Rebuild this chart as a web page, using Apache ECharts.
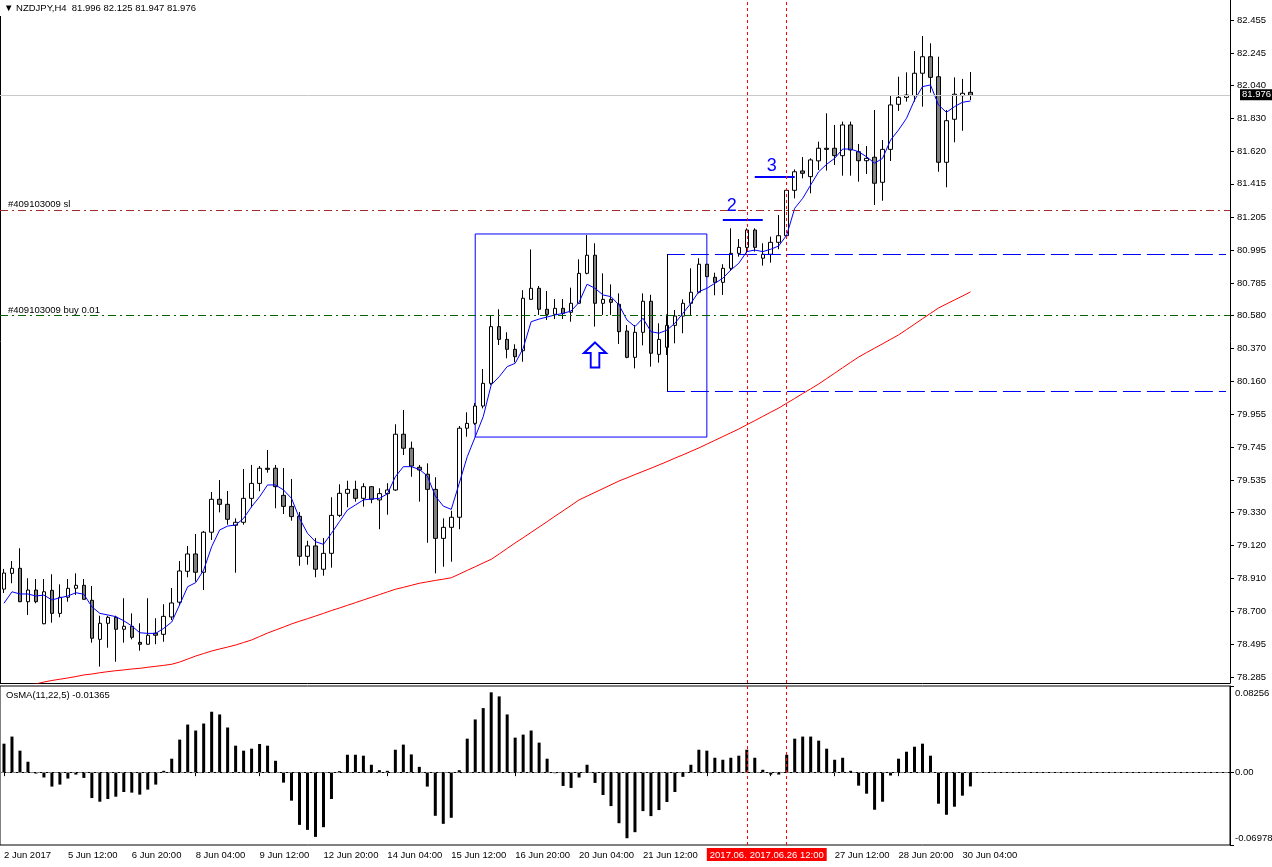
<!DOCTYPE html>
<html>
<head>
<meta charset="utf-8">
<title>NZDJPY,H4</title>
<script src="https://cdn.jsdelivr.net/npm/echarts@6.0.0/dist/echarts.min.js"></script>
<style>
  html, body { margin: 0; padding: 0; background: #fff; }
  #main { width: 1272px; height: 867px; }
</style>
</head>
<body>
<div id="main"></div>
<script>
// H4 bars from 2 Jun 04:00 to 30 Jun 08:00 (122 bars)
var opens = [78.843,78.943,78.975,78.763,78.837,78.623,78.835,78.689,78.791,78.848,
  78.867,78.772,78.524,78.626,78.664,78.588,78.607,78.505,78.493,78.563,
  78.556,78.666,78.760,78.956,79.066,78.950,79.204,79.413,79.381,79.248,
  79.267,79.419,79.514,79.610,79.610,79.438,79.368,79.305,79.051,79.117,
  78.969,79.070,79.311,79.451,79.476,79.419,79.493,79.409,79.449,79.472,
  79.826,79.737,79.616,79.572,79.476,79.165,79.235,79.299,79.864,79.895,
  80.005,80.149,80.509,80.428,80.365,80.356,80.682,80.752,80.619,80.587,
  80.625,80.600,80.657,80.847,80.962,80.657,80.682,80.651,80.481,80.314,
  80.473,80.670,80.333,80.378,80.517,80.576,80.657,80.727,80.905,80.822,
  80.790,80.879,80.974,81.012,81.122,80.943,80.968,81.044,81.086,81.374,
  81.497,81.461,81.561,81.641,81.641,81.594,81.789,81.619,81.562,81.584,
  81.425,81.634,81.920,81.964,81.975,82.117,82.222,82.095,81.552,81.825,
  81.975,81.996];
var highs = [78.971,79.021,79.102,78.912,78.907,78.907,78.937,78.873,78.907,78.943,
  78.907,78.863,78.674,78.674,78.674,78.785,78.689,78.626,78.785,78.658,
  78.747,78.850,79.021,79.117,79.193,79.212,79.459,79.535,79.466,79.292,
  79.605,79.631,79.624,79.726,79.631,79.612,79.542,79.332,79.150,79.167,
  79.167,79.426,79.508,79.531,79.531,79.515,79.497,79.483,79.515,79.889,
  79.980,79.779,79.631,79.641,79.553,79.292,79.340,79.878,79.965,80.024,
  80.240,80.578,80.619,80.473,80.397,80.740,80.999,80.767,80.735,80.684,
  80.684,80.756,80.936,81.090,81.038,80.847,80.777,80.720,80.519,80.519,
  80.720,80.711,80.530,80.587,80.614,80.682,80.879,80.943,80.905,80.851,
  80.905,81.133,81.065,81.133,81.133,81.038,81.080,81.217,81.387,81.507,
  81.585,81.577,81.683,81.863,81.789,81.810,81.810,81.668,81.655,81.884,
  81.693,81.975,82.095,82.123,82.258,82.353,82.307,82.222,81.884,82.091,
  82.081,82.125];
var lows = [78.818,78.880,78.760,78.679,78.753,78.620,78.630,78.664,78.763,78.806,
  78.776,78.503,78.351,78.471,78.382,78.503,78.524,78.452,78.490,78.493,
  78.509,78.647,78.740,78.918,78.890,78.837,79.155,79.330,79.252,78.947,
  79.252,79.362,79.464,79.582,79.356,79.320,79.277,78.991,78.998,78.918,
  78.928,78.979,79.300,79.362,79.398,79.366,79.388,79.223,79.315,79.466,
  79.694,79.556,79.398,79.137,78.943,78.985,79.017,79.223,79.810,79.885,
  79.990,80.139,80.392,80.308,80.282,80.286,80.682,80.583,80.551,80.557,
  80.557,80.540,80.657,80.841,80.509,80.583,80.583,80.399,80.308,80.244,
  80.390,80.255,80.280,80.329,80.403,80.467,80.583,80.720,80.826,80.708,
  80.710,80.862,80.953,80.974,80.985,80.896,80.915,81.000,81.086,81.323,
  81.450,81.355,81.503,81.499,81.535,81.467,81.467,81.429,81.478,81.281,
  81.308,81.560,81.878,81.937,81.937,81.905,81.994,81.492,81.393,81.679,
  81.752,81.947];
var closes = [78.945,78.975,78.763,78.837,78.763,78.826,78.689,78.791,78.848,78.867,
  78.778,78.531,78.626,78.664,78.588,78.607,78.537,78.493,78.550,78.550,
  78.670,78.755,78.958,79.066,78.950,79.204,79.413,79.381,79.286,79.267,
  79.419,79.514,79.610,79.603,79.493,79.368,79.303,79.051,79.117,78.969,
  79.070,79.311,79.451,79.476,79.419,79.493,79.413,79.449,79.472,79.826,
  79.737,79.624,79.599,79.476,79.165,79.235,79.299,79.864,79.895,80.005,
  80.149,80.509,80.428,80.365,80.318,80.689,80.752,80.619,80.587,80.625,
  80.593,80.657,80.847,80.962,80.657,80.682,80.663,80.477,80.314,80.473,
  80.670,80.340,80.428,80.517,80.576,80.657,80.727,80.905,80.826,80.790,
  80.879,80.974,81.012,81.122,81.012,80.968,81.044,81.086,81.374,81.492,
  81.482,81.567,81.641,81.634,81.594,81.789,81.630,81.562,81.577,81.419,
  81.634,81.916,81.964,81.979,82.117,82.222,82.091,81.552,81.816,81.984,
  81.990,81.976];

// blue fast moving average
var maFast = [78.753,78.826,78.812,78.812,78.799,78.805,78.774,78.788,78.799,78.820,
  78.810,78.731,78.689,78.679,78.668,78.642,78.609,78.566,78.562,78.562,
  78.594,78.634,78.745,78.858,78.884,78.964,79.112,79.218,79.243,79.250,
  79.292,79.366,79.429,79.504,79.504,79.472,79.419,79.292,79.197,79.144,
  79.127,79.197,79.271,79.345,79.377,79.409,79.415,79.419,79.447,79.556,
  79.620,79.620,79.603,79.561,79.434,79.370,79.349,79.515,79.683,79.810,
  79.937,80.139,80.191,80.255,80.276,80.371,80.540,80.557,80.570,80.583,
  80.593,80.608,80.663,80.778,80.752,80.710,80.699,80.646,80.551,80.509,
  80.562,80.477,80.467,80.487,80.530,80.593,80.657,80.731,80.752,80.784,
  80.816,80.868,80.911,80.985,80.995,80.985,81.000,81.021,81.090,81.260,
  81.323,81.408,81.492,81.539,81.577,81.636,81.636,81.619,81.587,81.546,
  81.577,81.693,81.757,81.831,81.947,82.032,82.043,81.916,81.869,81.905,
  81.933,81.941];

// red slow moving average
var maSlow = [78.203,78.215,78.222,78.234,78.241,78.253,78.263,78.271,78.279,78.288,
  78.298,78.304,78.312,78.319,78.325,78.330,78.336,78.340,78.347,78.353,
  78.359,78.366,78.380,78.399,78.418,78.434,78.450,78.463,78.475,78.488,
  78.504,78.520,78.542,78.564,78.583,78.602,78.622,78.639,78.655,78.672,
  78.689,78.707,78.723,78.740,78.757,78.774,78.791,78.808,78.825,78.842,
  78.854,78.867,78.880,78.889,78.898,78.906,78.915,78.938,78.962,78.985,
  79.009,79.032,79.066,79.101,79.136,79.169,79.203,79.237,79.271,79.306,
  79.340,79.374,79.409,79.433,79.457,79.481,79.505,79.529,79.549,79.570,
  79.590,79.610,79.631,79.652,79.674,79.695,79.717,79.739,79.763,79.787,
  79.811,79.835,79.859,79.886,79.912,79.939,79.966,79.992,80.023,80.053,
  80.084,80.114,80.145,80.179,80.213,80.248,80.282,80.316,80.344,80.372,
  80.400,80.428,80.456,80.490,80.524,80.559,80.593,80.627,80.653,80.678,
  80.703,80.729];

// OsMA(11,22,5)
var osma = [0.0273,0.0341,0.0206,0.0100,-0.0013,-0.0051,-0.0138,-0.0119,-0.0061,-0.0023,
  -0.0055,-0.0248,-0.0283,-0.0257,-0.0235,-0.0190,-0.0196,-0.0215,-0.0167,-0.0119,
  0.0013,0.0129,0.0312,0.0456,0.0399,0.0466,0.0579,0.0553,0.0428,0.0254,
  0.0206,0.0225,0.0270,0.0254,0.0109,-0.0100,-0.0273,-0.0505,-0.0553,-0.0620,
  -0.0527,-0.0257,0.0010,0.0167,0.0167,0.0158,0.0071,0.0019,0.0013,0.0215,
  0.0264,0.0170,0.0051,-0.0138,-0.0418,-0.0495,-0.0437,0.0019,0.0321,0.0505,
  0.0614,0.0765,0.0726,0.0553,0.0331,0.0360,0.0399,0.0283,0.0129,-0.0010,
  -0.0132,-0.0151,-0.0051,0.0071,-0.0103,-0.0219,-0.0325,-0.0489,-0.0633,-0.0575,
  -0.0373,-0.0421,-0.0363,-0.0286,-0.0190,-0.0045,0.0071,0.0215,0.0206,0.0138,
  0.0119,0.0138,0.0158,0.0215,0.0138,0.0023,-0.0023,-0.0023,0.0167,0.0321,
  0.0341,0.0341,0.0302,0.0225,0.0119,0.0138,0.0013,-0.0129,-0.0206,-0.0360,
  -0.0283,-0.0032,0.0129,0.0196,0.0244,0.0273,0.0158,-0.0302,-0.0408,-0.0331,
  -0.0225,-0.01365];

// one time label every 8 bars
var timeLabels = ['2 Jun 2017','5 Jun 12:00','6 Jun 20:00','8 Jun 04:00','9 Jun 12:00',
  '12 Jun 20:00','14 Jun 04:00','15 Jun 12:00','16 Jun 20:00','20 Jun 04:00',
  '21 Jun 12:00','22 Jun 20:00','26 Jun 04:00','27 Jun 12:00','28 Jun 20:00','30 Jun 04:00'];
var priceTicks = [82.455,82.245,82.040,81.830,81.620,81.415,81.205,80.995,80.785,80.580,
  80.370,80.160,79.955,79.745,79.535,79.330,79.120,78.910,78.700,78.495,78.285];
var osmaTicks = [0.08256, 0, -0.06978];

// chart objects
var lastPrice = 81.976;
var slPrice = 81.255, buyPrice = 80.583;
var boxTop = 81.097, boxBottom = 79.808;
var zoneTop = 80.970, zoneBottom = 80.100;
var level2 = 81.186, level3 = 81.457;
var arrowPrice = 80.329;
var vLineBars = [93, 98];
var vLineTexts = ['2017.06.23 16:00', '2017.06.26 12:00'];

var SLOTS = 154;
var FONT = 'Liberation Sans, DejaVu Sans, sans-serif';
var FS = 9.5;

var slots = [];
for (var i = 0; i < SLOTS; i++) slots.push(i);
var candles = opens.map(function (o, i) { return [o, closes[i], lows[i], highs[i]]; });

function redDot() { return { color: '#ff0000', type: [3, 3], width: 1 }; }
function blueDash() { return { color: '#0000ff', type: [18, 6], width: 1 }; }

function labelTick(index) { return index % 8 === 0 && index < opens.length; }

var chart = echarts.init(document.getElementById('main'));
chart.setOption({
  animation: false,
  backgroundColor: '#fff',
  textStyle: { fontFamily: FONT, fontSize: FS, color: '#000' },
  title: [
    { text: '\u25BC NZDJPY,H4  81.996 82.125 81.947 81.976', left: 0, top: 0, padding: [3, 4, 3, 4],
      backgroundColor: '#fff',
      textStyle: { fontFamily: FONT, fontSize: FS, fontWeight: 'normal', color: '#000' } },
    { text: 'OsMA(11,22,5) -0.01365', left: 3, top: 688, padding: [2, 3],
      textStyle: { fontFamily: FONT, fontSize: FS, fontWeight: 'normal', color: '#000' } }
  ],
  grid: [
    { left: 0, top: 0, width: 1230, height: 683, outerBoundsMode: 'none' },
    { left: 0, top: 686, width: 1230, height: 159, show: true, borderColor: '#000', borderWidth: 1,
      backgroundColor: 'transparent', outerBoundsMode: 'none' }
  ],
  xAxis: [
    { type: 'category', gridIndex: 0, data: slots, boundaryGap: true,
      axisLine: { lineStyle: { color: '#000' } }, axisTick: { show: false },
      axisLabel: { show: false }, splitLine: { show: false } },
    { type: 'category', gridIndex: 1, data: slots, boundaryGap: true,
      axisLine: { lineStyle: { color: '#000' } },
      axisTick: { show: true, interval: labelTick, alignWithLabel: true, length: 4, lineStyle: { color: '#000' } },
      axisLabel: { interval: labelTick, align: 'left', margin: 5, color: '#000', fontFamily: FONT, fontSize: FS,
        formatter: function (v, idx) { return timeLabels[idx / 8]; } },
      splitLine: { show: false } }
  ],
  yAxis: [
    { type: 'value', gridIndex: 0, position: 'right', min: 78.247, max: 82.582,
      axisLine: { show: true, lineStyle: { color: '#000' } },
      axisTick: { show: true, customValues: priceTicks, length: 4, lineStyle: { color: '#000' } },
      axisLabel: { customValues: priceTicks, margin: 7, color: '#000', fontFamily: FONT, fontSize: FS,
        formatter: function (v) { return v.toFixed(3); } },
      splitLine: { show: false } },
    { type: 'value', gridIndex: 1, position: 'right', min: -0.06978, max: 0.08256,
      axisLine: { show: true, lineStyle: { color: '#000' } },
      axisTick: { show: true, customValues: osmaTicks, length: 4, lineStyle: { color: '#000' } },
      axisLabel: { customValues: osmaTicks, margin: 5, color: '#000', fontFamily: FONT, fontSize: FS,
        formatter: function (v) {
          if (v === 0) return '{m|0.00}';
          return v > 0 ? '{t|' + v.toFixed(5) + '}' : '{b|' + v.toFixed(5) + '}';
        },
        rich: {
          t: { padding: [14, 0, 0, 0], fontSize: FS, fontFamily: FONT, color: '#000' },
          m: { fontSize: FS, fontFamily: FONT, color: '#000' },
          b: { padding: [0, 0, 14, 0], fontSize: FS, fontFamily: FONT, color: '#000' }
        } },
      splitLine: { show: false } },
    { type: 'value', gridIndex: 0, position: 'left', min: 78.247, max: 82.582,
      axisLine: { show: true, lineStyle: { color: '#000' } }, axisTick: { show: false },
      axisLabel: { show: false }, splitLine: { show: false } }
  ],
  series: [
    {
      type: 'candlestick', name: 'NZDJPY', xAxisIndex: 0, yAxisIndex: 0,
      data: candles, barWidth: 4,
      itemStyle: { color: '#ffffff', color0: '#808080', borderColor: '#000', borderColor0: '#000', borderWidth: 1 },
      markLine: {
        silent: true, symbol: 'none',
        data: [
          { yAxis: lastPrice, lineStyle: { color: '#c8c8c8', type: 'solid', width: 1 },
            label: { show: true, position: 'end', distance: 10, formatter: lastPrice.toFixed(3),
              backgroundColor: '#000', color: '#fff', padding: [1, 1, 0, 2], fontFamily: FONT, fontSize: FS } },
          { yAxis: slPrice, lineStyle: { color: '#a52a2a', type: [8, 4, 2, 4], width: 1 },
            label: { show: true, position: 'insideStartTop', distance: [8, 0], formatter: '#409103009 sl',
              color: '#000', fontFamily: FONT, fontSize: FS } },
          { yAxis: buyPrice, lineStyle: { color: '#006400', type: [8, 4, 2, 4], width: 1 },
            label: { show: true, position: 'insideStartTop', distance: [8, 0], formatter: '#409103009 buy 0.01',
              color: '#000', fontFamily: FONT, fontSize: FS } },
          [{ coord: [83, zoneTop], lineStyle: blueDash(), label: { show: false } },
            { coord: [153, zoneTop], lineStyle: blueDash() }],
          [{ coord: [83, zoneBottom], lineStyle: blueDash(), label: { show: false } },
            { coord: [153, zoneBottom], lineStyle: blueDash() }],
          [{ coord: [83, zoneTop], lineStyle: { color: '#000', type: 'solid', width: 1 }, label: { show: false } },
            { coord: [83, zoneBottom], lineStyle: { color: '#000', type: 'solid', width: 1 } }],
          [{ coord: [90, level2], lineStyle: { color: '#0000ff', type: 'solid', width: 2 },
            label: { show: true, position: 'insideStartTop', distance: [4, 5], formatter: '2',
              color: '#0000ff', fontFamily: FONT, fontSize: 18 } },
            { coord: [95, level2], lineStyle: { color: '#0000ff', type: 'solid', width: 2 } }],
          [{ coord: [94, level3], lineStyle: { color: '#0000ff', type: 'solid', width: 2 },
            label: { show: true, position: 'insideStartTop', distance: [12, 2], formatter: '3',
              color: '#0000ff', fontFamily: FONT, fontSize: 18 } },
            { coord: [99, level3], lineStyle: { color: '#0000ff', type: 'solid', width: 2 } }],
          { xAxis: vLineBars[0], lineStyle: redDot(), label: { show: false } },
          { xAxis: vLineBars[1], lineStyle: redDot(), label: { show: false } }
        ]
      },
      markArea: {
        silent: true,
        itemStyle: { color: 'rgba(0,0,0,0)', borderColor: '#0000ff', borderWidth: 1 },
        label: { show: false },
        data: [[{ coord: [59, boxTop] }, { coord: [88, boxBottom] }]]
      },
      markPoint: {
        silent: true,
        symbol: 'path://M11.5,0 L23,11 L16,11 L16,26 L7,26 L7,11 L0,11 Z',
        symbolSize: [22, 25],
        itemStyle: { color: '#fff', borderColor: '#0000ff', borderWidth: 2 },
        label: { show: false },
        data: [{ coord: [74, arrowPrice] }]
      }
    },
    {
      type: 'line', name: 'MA fast', xAxisIndex: 0, yAxisIndex: 0, data: maFast,
      symbol: 'none', lineStyle: { color: '#0000ff', width: 1 }, z: 3
    },
    {
      type: 'line', name: 'MA slow', xAxisIndex: 0, yAxisIndex: 0, data: maSlow,
      symbol: 'none', lineStyle: { color: '#ff0000', width: 1 }, z: 3
    },
    {
      type: 'bar', name: 'OsMA', xAxisIndex: 1, yAxisIndex: 1, data: osma,
      barWidth: 3, itemStyle: { color: '#000' },
      markLine: {
        silent: true, symbol: 'none',
        data: [
          { yAxis: 0, lineStyle: { color: '#808080', type: [4, 2], width: 1 }, label: { show: false } },
          { xAxis: vLineBars[0], lineStyle: redDot(),
            label: { show: true, position: 'start', distance: 3, formatter: vLineTexts[0],
              backgroundColor: '#ff0000', color: '#fff', padding: [2, 3, 1, 3], fontFamily: FONT, fontSize: FS } },
          { xAxis: vLineBars[1], lineStyle: redDot(),
            label: { show: true, position: 'start', distance: 3, formatter: vLineTexts[1],
              backgroundColor: '#ff0000', color: '#fff', padding: [2, 3, 1, 3], fontFamily: FONT, fontSize: FS } }
        ]
      }
    }
  ]
});
</script>
</body>
</html>
